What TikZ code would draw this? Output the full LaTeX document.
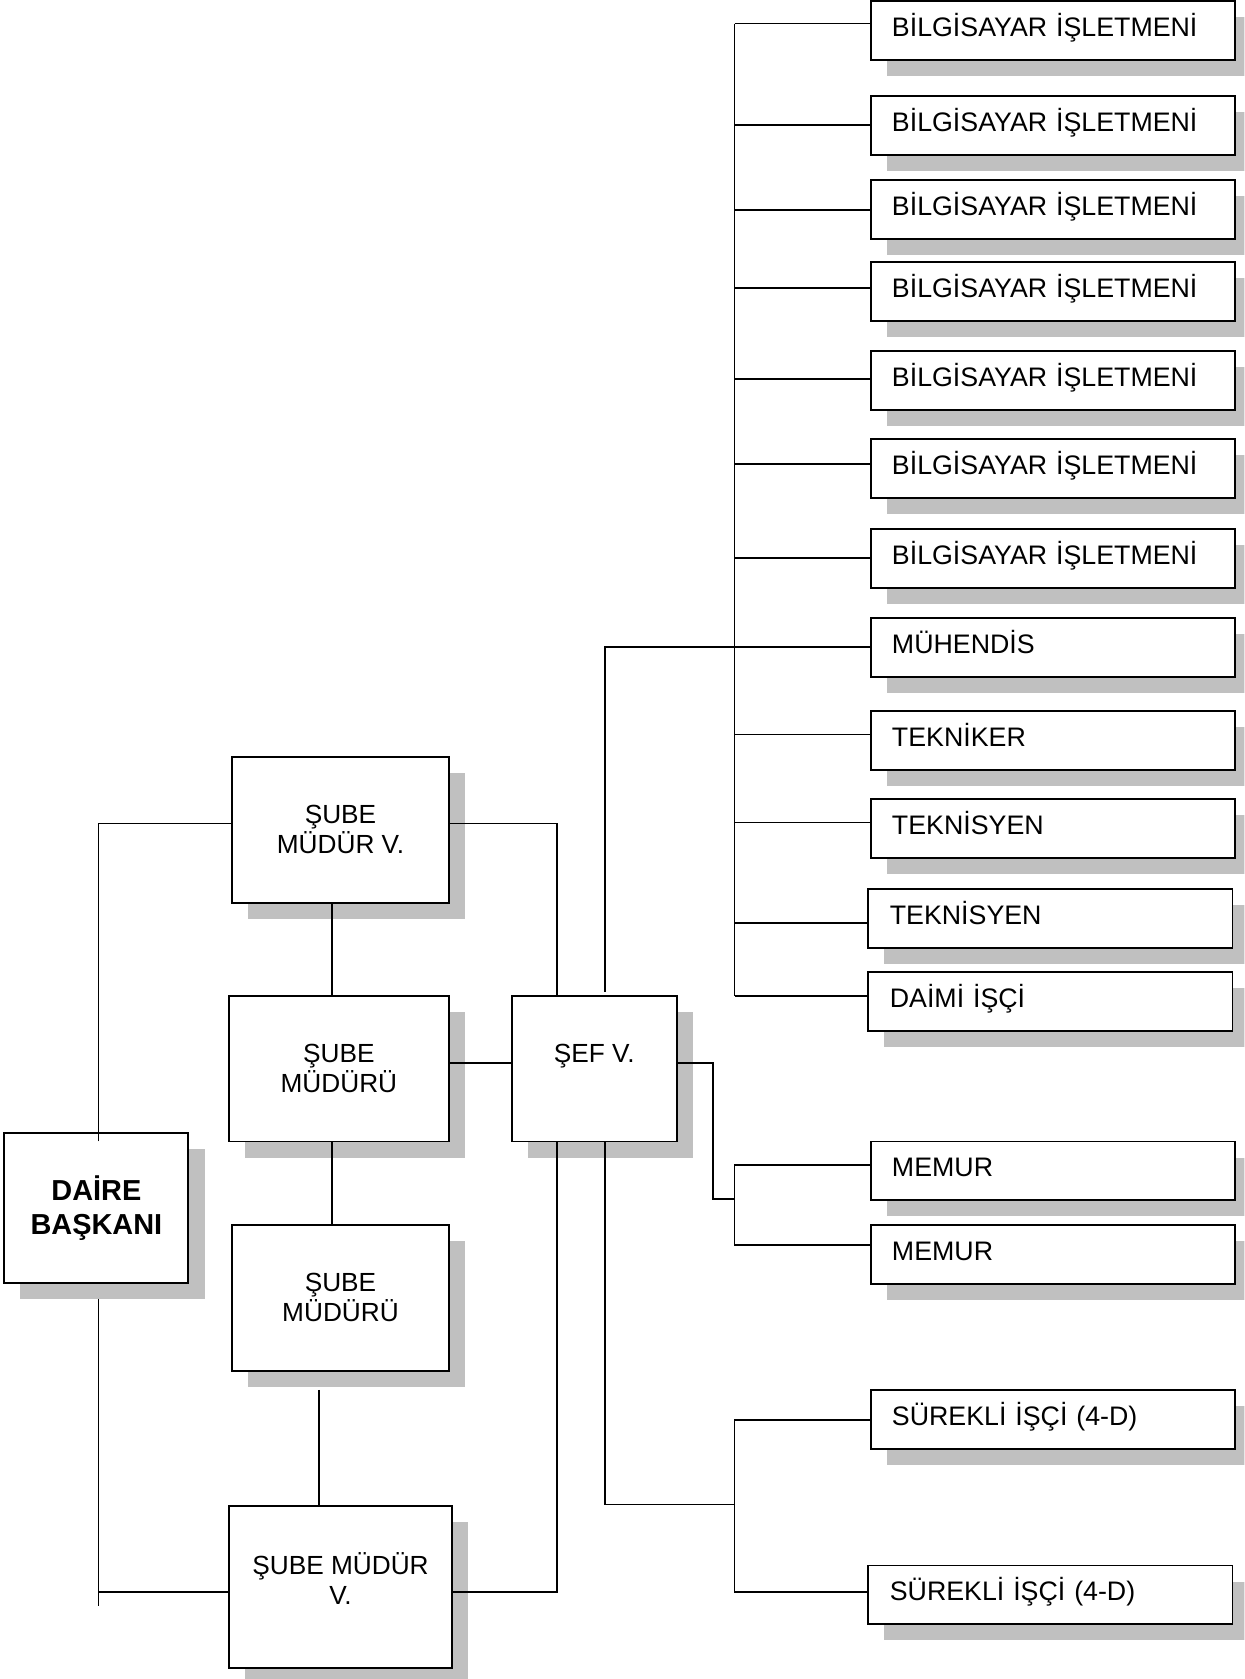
\documentclass[tikz,border=0pt]{standalone}
\usepackage{fontspec}
\setmainfont{Liberation Sans}
\usetikzlibrary{shadows}
\definecolor{shadowgray}{HTML}{C0C0C0}
\begin{document}
\begin{tikzpicture}[x=1pt,y=-1pt,
  shadowed/.style={drop shadow={shadow xshift=15pt, shadow yshift=-15pt, fill=shadowgray, opacity=1}},
  conn/.style={line width=1.6pt},
  rbox/.style={draw, line width=1.8pt, fill=white, shadowed, anchor=north west,
    outer sep=0pt, inner xsep=20pt, inner ysep=0pt, text width=300pt, align=left,
    text height=33pt, text depth=22pt, font=\fontsize{25}{28}\selectfont},
  bbox/.style={draw, line width=1.8pt, fill=white, shadowed, anchor=north west,
    outer sep=0pt, inner sep=0pt, align=center, font=\fontsize{24.5}{28}\selectfont}]
\useasboundingbox (0,0) rectangle (1162,1568);
\clip (0,0) rectangle (1162,1568);

% right column
\node[rbox] (bi1) at (813,0.9) {BİLGİSAYAR İŞLETMENİ};
\node[rbox] (bi2) at (813,90) {BİLGİSAYAR İŞLETMENİ};
\node[rbox] (bi3) at (813,168) {BİLGİSAYAR İŞLETMENİ};
\node[rbox] (bi4) at (813,245) {BİLGİSAYAR İŞLETMENİ};
\node[rbox] (bi5) at (813,328) {BİLGİSAYAR İŞLETMENİ};
\node[rbox] (bi6) at (813,410) {BİLGİSAYAR İŞLETMENİ};
\node[rbox] (bi7) at (813,494) {BİLGİSAYAR İŞLETMENİ};
\node[rbox] (muh) at (813,577) {MÜHENDİS};
\node[rbox] (tkr) at (813,664) {TEKNİKER};
\node[rbox] (tsy1) at (813,746) {TEKNİSYEN};
\node[rbox] (tsy2) at (811,830) {TEKNİSYEN};
\node[rbox] (daimi) at (811,908) {DAİMİ İŞÇİ};
\node[rbox] (mem1) at (813,1066) {MEMUR};
\node[rbox] (mem2) at (813,1144) {MEMUR};
\node[rbox] (sur1) at (813,1298) {SÜREKLİ İŞÇİ (4-D)};
\node[rbox] (sur2) at (811,1462) {SÜREKLİ İŞÇİ (4-D)};

% left / middle boxes
\node[bbox, minimum width=172pt, minimum height=140pt,
  font=\fontsize{27}{32}\selectfont\bfseries] (daire) at (4,1058) {DAİRE\\BAŞKANI};
\node[bbox, minimum width=202pt, minimum height=136pt] (smv1) at (217,707) {ŞUBE\\MÜDÜR V.};
\node[bbox, minimum width=205pt, minimum height=136pt] (sm1) at (214,930) {ŞUBE\\MÜDÜRÜ};
\node[bbox, minimum width=202pt, minimum height=136pt] (sm2) at (217,1144) {ŞUBE\\MÜDÜRÜ};
\node[bbox, minimum width=208pt, minimum height=152pt] (smv2) at (214,1406) {ŞUBE MÜDÜR\\V.\\[-12pt]\mbox{}};
\node[bbox, minimum width=154pt, minimum height=136pt] (sef) at (478,930) {ŞEF V.\\\mbox{}};

% connectors: left side
\coordinate (dA) at (92,1066);
\coordinate (dB) at (92,769);
\draw[conn] (dA) -- (dB) -- (dB -| smv1.west);
\coordinate (dC) at (92,1213);
\coordinate (dD) at (92,1500);
\coordinate (dE) at (92,1487);
\draw[conn] (dC) -- (dD);
\draw[conn] (dE) -- (dE -| smv2.west);

\coordinate (v310) at (310,0);
\draw[conn] (v310 |- smv1.south) -- (v310 |- sm1.north);
\draw[conn] (v310 |- sm1.south) -- (v310 |- sm2.north);
\coordinate (m298) at (298,1298);
\draw[conn] (m298) -- (m298 |- smv2.north);

\coordinate (sA) at (520,769);
\draw[conn] (sA -| smv1.east) -- (sA) -- (sA |- sef.north);
\coordinate (h993) at (0,993);
\draw[conn] (h993 -| sm1.east) -- (h993 -| sef.west);
\coordinate (sB) at (520,1487);
\draw[conn] (sB |- sef.south) -- (sB) -- (sB -| smv2.east);

% connectors: Şef V. to staff
\coordinate (sC) at (565,1405);
\coordinate (sD) at (686,1405);
\draw[conn] (sC |- sef.south) -- (sC) -- (sD);
\coordinate (sE) at (686,1326);
\coordinate (sF) at (686,1487);
\draw[conn] (sE -| sur1.west) -- (sE) -- (sF) -- (sF -| sur2.west);

\coordinate (sG) at (565,926);
\coordinate (sH) at (565,604);
\draw[conn] (sG) -- (sH) -- (sH -| muh.west);

\coordinate (mA) at (666,993);
\coordinate (mB) at (666,1120);
\coordinate (mC) at (686,1120);
\draw[conn] (mA -| sef.east) -- (mA) -- (mB) -- (mC);
\coordinate (mD) at (686,1088);
\coordinate (mE) at (686,1163);
\draw[conn] (mD -| mem1.west) -- (mD) -- (mE) -- (mE -| mem2.west);

% trunk
\coordinate (t1) at (686,22);
\coordinate (t2) at (686,117);
\coordinate (t3) at (686,196);
\coordinate (t4) at (686,269);
\coordinate (t5) at (686,354);
\coordinate (t6) at (686,433);
\coordinate (t7) at (686,521);
\coordinate (t8) at (686,686);
\coordinate (t9) at (686,768);
\coordinate (t10) at (686,862);
\coordinate (t11) at (686,930);
\draw[conn] (t1) -- (t11);
\draw[conn] (t1) -- (t1 -| bi1.west);
\draw[conn] (t2) -- (t2 -| bi2.west);
\draw[conn] (t3) -- (t3 -| bi3.west);
\draw[conn] (t4) -- (t4 -| bi4.west);
\draw[conn] (t5) -- (t5 -| bi5.west);
\draw[conn] (t6) -- (t6 -| bi6.west);
\draw[conn] (t7) -- (t7 -| bi7.west);
\draw[conn] (t8) -- (t8 -| tkr.west);
\draw[conn] (t9) -- (t9 -| tsy1.west);
\draw[conn] (t10) -- (t10 -| tsy2.west);
\draw[conn] (t11) -- (t11 -| daimi.west);
\end{tikzpicture}
\end{document}
